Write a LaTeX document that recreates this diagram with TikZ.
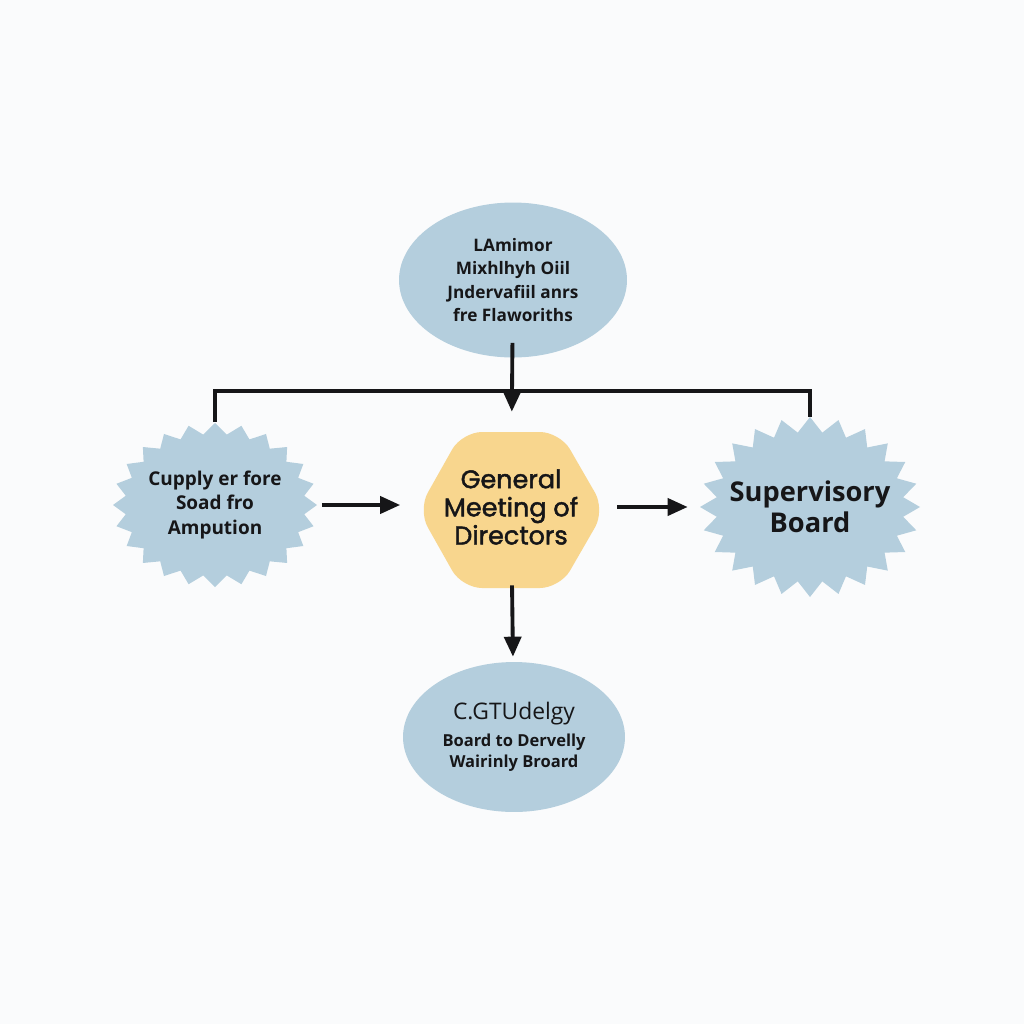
\documentclass[tikz,border=0pt]{standalone}
\usepackage{fontspec}
\setmainfont{Open Sans}
\newfontfamily\gmfont{Poppins}[FakeBold=1.8]
\usetikzlibrary{shapes.geometric,arrows.meta}
\definecolor{paper}{RGB}{250,251,252}
\definecolor{boardblue}{RGB}{180,206,221}
\definecolor{meetgold}{RGB}{248,214,142}
\definecolor{ink}{RGB}{22,22,24}
\begin{document}
\begin{tikzpicture}[x=0.02cm,y=-0.02cm,
  box/.style={inner sep=0pt,align=center,text=ink},
  link/.style={draw=ink,line width=2.2pt},
  arr/.style={link,-{Triangle[length=0.4cm,width=0.34cm]}}]
\fill[paper] (0,0) rectangle (1024,1024);
% blue starbursts and the golden hexagon
\fill[boardblue] plot[samples=49,domain=0:48,variable=\k]
  ({215+(102-12*mod(\k,2))*cos(7.5*\k)},{505+(82-11*mod(\k,2))*sin(7.5*\k)});
\fill[boardblue] plot[samples=49,domain=0:48,variable=\k]
  ({810+(110-16*mod(\k,2))*cos(7.5*\k)},{507+(90-15*mod(\k,2))*sin(7.5*\k)});
\fill[meetgold,rounded corners=0.4cm] (418,510) -- (462,432) -- (560,432) -- (605,510)
  -- (560,588) -- (462,588) -- cycle;
\node (top) [box,ellipse,fill=boardblue,minimum width=4.56cm,minimum height=3.1cm,
  font=\bfseries\fontsize{9.8}{13.4}\selectfont] at (513,280)
  {LAmimor\\ Mixhlhyh Oiil\\ Jndervafiil anrs\\ fre Flaworiths};
\node (supply) [box,minimum width=4.1cm,minimum height=3.3cm,
  font=\bfseries\fontsize{10.8}{14.2}\selectfont] at (215,505)
  {Cupply er fore\\ Soad fro\\ Ampution};
\node (gm) [box,minimum width=3.74cm,minimum height=3.12cm,
  font=\gmfont\fontsize{14.5}{16}\selectfont] at (511,507)
  {General\\ Meeting of\\ Directors};
\node (superv) [box,minimum width=4.4cm,minimum height=3.6cm,
  font=\bfseries\fontsize{15.5}{17.6}\selectfont] at (810,507)
  {Supervisory\\ Board};
\node (bottom) [box,ellipse,fill=boardblue,minimum width=4.44cm,minimum height=3.0cm,
  font=\bfseries\fontsize{9.4}{12}\selectfont] at (514,737)
  {{\mdseries\fontsize{13}{16}\selectfont C.GTUdelgy}\\[3pt] Board to Dervelly\\ Wairinly Broard};
\coordinate (bar) at (513,391);
\draw[link] (supply.north) |- (bar) -| (superv.north);
\draw[arr,shorten <=-0.3cm,shorten >=0.34cm] (top) -- (gm);
\draw[arr,shorten <=0.08cm,shorten >=0.34cm] (supply.east) -- (supply.east -| gm.west);
\draw[arr,shorten <=0.25cm,shorten >=0.24cm] (gm.east |- superv) -- (superv.west);
\draw[arr,shorten >=0.1cm] (gm) -- (bottom);
\end{tikzpicture}
\end{document}
